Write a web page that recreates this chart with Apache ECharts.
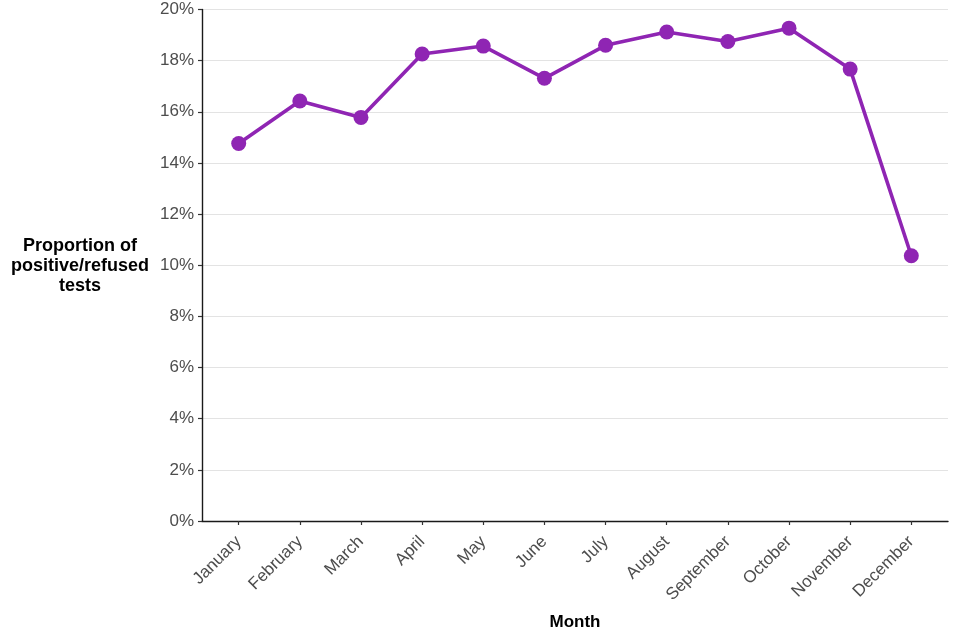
<!DOCTYPE html>
<html>
<head>
<meta charset="utf-8">
<script src="https://cdn.jsdelivr.net/npm/echarts@6/dist/echarts.min.js"></script>
<style>html,body{margin:0;padding:0;background:#fff}#c{width:960px;height:640px}</style>
</head>
<body>
<div id="c"></div>
<script>
const months = ["January","February","March","April","May","June","July","August","September","October","November","December"];
const proportion = [14.76, 16.42, 15.78, 18.26, 18.57, 17.31, 18.60, 19.12, 18.75, 19.27, 17.67, 10.37];
const yTicks = [0, 2, 4, 6, 8, 10, 12, 14, 16, 18, 20];

const idx = months.map((m, i) => i);
const chart = echarts.init(document.getElementById('c'), null, {renderer: 'canvas'});
const font = '"Liberation Sans", Arial, sans-serif';
chart.setOption({
  animation: false,
  backgroundColor: '#fff',
  grid: {left: 202, right: 12, top: 9.5, bottom: 119, containLabel: false},
  xAxis: {
    type: 'value',
    min: -0.6,
    max: 11.6,
    name: 'Month',
    nameLocation: 'middle',
    nameGap: 93,
    nameTextStyle: {fontFamily: font, fontSize: 17, fontWeight: 'bold', color: '#000'},
    axisLine: {show: true, onZero: false, lineStyle: {color: '#1a1a1a', width: 1.4}},
    axisTick: {show: true, length: 4, customValues: idx, lineStyle: {color: '#333', width: 1.2}},
    axisLabel: {customValues: idx, rotate: 45, margin: 18, fontFamily: font, fontSize: 17, color: '#4d4d4d',
      formatter: v => months[Math.round(v)] || ''},
    splitLine: {show: false}
  },
  yAxis: {
    type: 'value',
    min: yTicks[0],
    max: yTicks[yTicks.length - 1],
    interval: yTicks[1] - yTicks[0],
    axisLine: {show: true, onZero: false, lineStyle: {color: '#1a1a1a', width: 1.4}},
    axisTick: {show: true, length: 4, lineStyle: {color: '#333', width: 1.2}},
    axisLabel: {fontFamily: font, fontSize: 17, color: '#4d4d4d', margin: 8, formatter: v => v + '%'},
    splitLine: {show: true, lineStyle: {color: '#e3e3e3', width: 1}}
  },
  graphic: [{
    type: 'text',
    x: 80, y: 266,
    style: {
      text: 'Proportion of\npositive/refused\ntests',
      fontFamily: font, fontSize: 18, fontWeight: 'bold', fill: '#000',
      textAlign: 'center', textVerticalAlign: 'middle', lineHeight: 20
    }
  }],
  series: [{
    type: 'line',
    data: proportion.map((v, i) => [idx[i], v]),
    symbol: 'circle',
    symbolSize: 15,
    lineStyle: {color: '#8f25b3', width: 3.6},
    itemStyle: {color: '#8f25b3'}
  }]
});
</script>
</body>
</html>
